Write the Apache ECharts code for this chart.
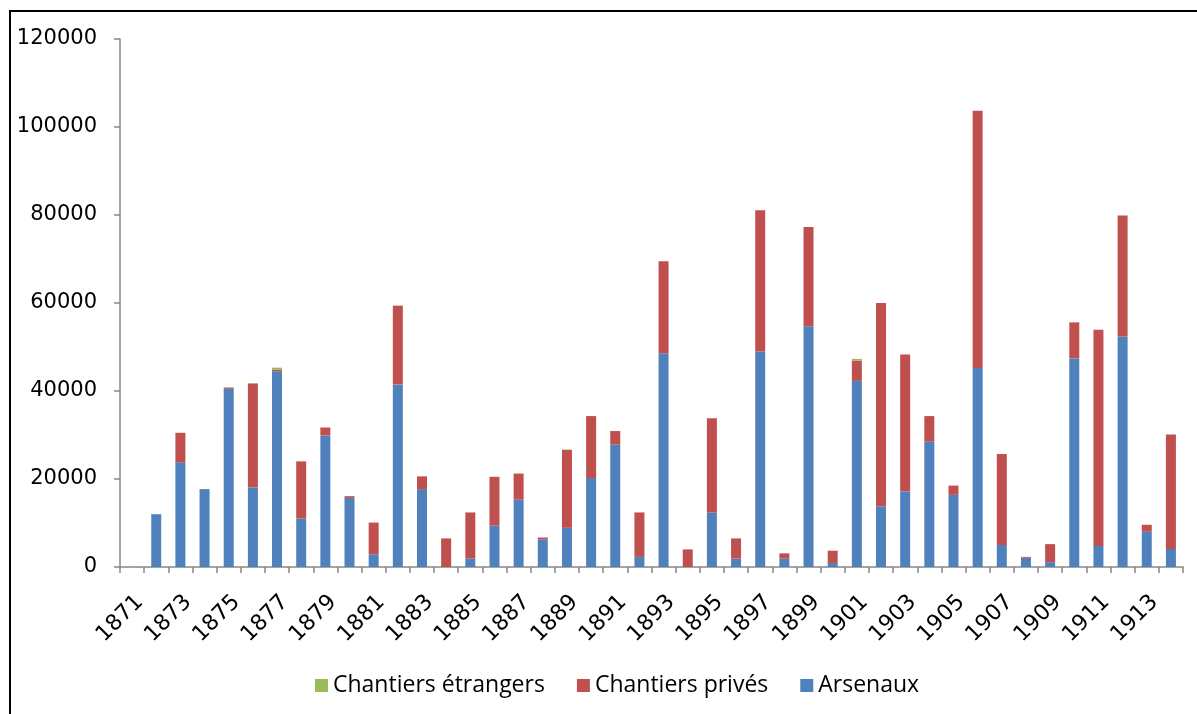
<!DOCTYPE html>
<html>
<head>
<meta charset="utf-8">
<script src="https://cdn.jsdelivr.net/npm/echarts@6/dist/echarts.min.js"></script>
<style>
html,body{margin:0;padding:0;background:#fff;}
#chart{width:1197px;height:714px;}
</style>
</head>
<body>
<div id="chart"></div>
<script>
var years = [];
for (var y = 1871; y <= 1914; y++) years.push(String(y));

var arsenaux = [0,12000,23800,17700,40500,18100,44500,11000,29900,15700,
  2900,41500,17700,0,1900,9400,15300,6300,8900,20200,
  27800,2300,48600,0,12400,1900,49000,1900,54700,900,
  42300,13800,17200,28500,16400,45200,5000,2100,1100,47400,
  4800,52400,8000,4100];

var chantiersPrives = [0,0,6700,0,300,23600,300,13000,1800,400,
  7200,17900,2900,6500,10500,11100,5900,400,17700,14100,
  3100,10100,20900,4000,21400,4600,32100,1200,22600,2800,
  4600,46200,31100,5800,2100,58500,20700,200,4100,8200,
  49100,27500,1600,26000];

var chantiersEtrangers = [0,0,0,0,0,100,500,100,0,0,
  0,0,0,0,0,0,100,0,100,0,
  0,0,0,0,0,0,0,0,0,0,
  400,0,0,0,0,0,0,0,0,0,
  0,0,0,0];

var yTicks = [0,20000,40000,60000,80000,100000,120000];

var chart = echarts.init(document.getElementById('chart'));
var fontFam = '"Open Sans", "Noto Sans", sans-serif';
var numFam = '"DejaVu Sans", "Open Sans", sans-serif';
var axisGrey = '#868686';
chart.setOption({
  animation: false,
  backgroundColor: '#fff',
  graphic: [{
    type: 'rect',
    shape: {x: 10, y: 11, width: 1400, height: 900},
    style: {fill: 'none', stroke: '#000', lineWidth: 2}
  }],
  grid: {left: 120, right: 14, top: 39, bottom: 147},
  legend: {
    data: ['Chantiers étrangers', 'Chantiers privés', 'Arsenaux'],
    left: 310, top: 669,
    icon: 'rect', itemWidth: 13, itemHeight: 13, itemGap: 32,
    textStyle: {fontFamily: fontFam, fontSize: 23, color: '#000'}
  },
  xAxis: {
    type: 'category',
    data: years,
    axisLine: {lineStyle: {color: axisGrey, width: 1.5}},
    axisTick: {show: true, interval: 0, length: 6, lineStyle: {color: axisGrey, width: 1.5}},
    axisLabel: {
      interval: 1, rotate: 45, margin: 24, verticalAlign: 'top',
      fontFamily: numFam, fontSize: 22, color: '#000'
    }
  },
  yAxis: {
    type: 'value',
    min: yTicks[0], max: yTicks[yTicks.length - 1], interval: yTicks[1] - yTicks[0],
    splitLine: {show: false},
    axisLine: {show: true, lineStyle: {color: axisGrey, width: 1.5}},
    axisTick: {show: true, length: 6, lineStyle: {color: axisGrey, width: 1.5}},
    axisLabel: {margin: 23, fontFamily: numFam, fontSize: 21, color: '#000',
      formatter: function (v) { return String(v); }}
  },
  series: [
    {name: 'Arsenaux', type: 'bar', stack: 'total', data: arsenaux, barWidth: 10,
     itemStyle: {color: '#4F81BD'}},
    {name: 'Chantiers privés', type: 'bar', stack: 'total', data: chantiersPrives, barWidth: 10,
     itemStyle: {color: '#C0504D'}},
    {name: 'Chantiers étrangers', type: 'bar', stack: 'total', data: chantiersEtrangers, barWidth: 10,
     itemStyle: {color: '#9BBB59'}}
  ]
});
</script>
</body>
</html>
